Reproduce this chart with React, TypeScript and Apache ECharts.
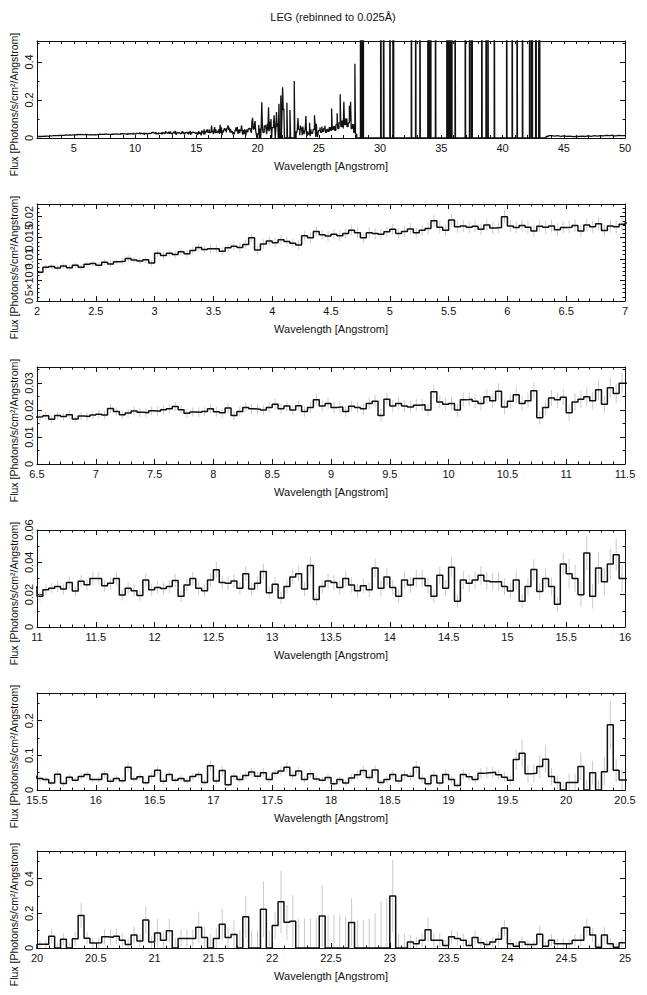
import React, { useEffect, useRef } from "react";
import * as echarts from "echarts";

const TITLE = "LEG (rebinned to 0.025Å)";
const X_NAME = "Wavelength [Angstrom]";
const Y_NAME = "Flux [Photons/s/cm²/Angstrom]";

// Bins of 0.05 Å starting at 2 Å (left edges), 2.00 ... 24.95
const BIN = 0.05;
const START = 2;
const FLUX = [
  // 2.00 - 2.95
  0.0068, 0.0080, 0.0082, 0.0078, 0.0083, 0.0079, 0.0085, 0.0080, 0.0087, 0.0089,
  0.0085, 0.0092, 0.0088, 0.0093, 0.0094, 0.0101, 0.0097, 0.0095, 0.0098, 0.0090,
  // 3.00 - 3.95
  0.0113, 0.0108, 0.0113, 0.0110, 0.0117, 0.0112, 0.0120, 0.0127, 0.0122, 0.0124,
  0.0124, 0.0118, 0.0126, 0.0130, 0.0127, 0.0134, 0.0150, 0.0121, 0.0135, 0.0142,
  // 4.00 - 4.95
  0.0138, 0.0145, 0.0141, 0.0137, 0.0133, 0.0155, 0.0150, 0.0165, 0.0157, 0.0154,
  0.0158, 0.0155, 0.0160, 0.0168, 0.0162, 0.0150, 0.0162, 0.0160, 0.0158, 0.0164,
  // 5.00 - 5.95
  0.0170, 0.0160, 0.0165, 0.0171, 0.0162, 0.0168, 0.0172, 0.0190, 0.0175, 0.0168,
  0.0192, 0.0176, 0.0178, 0.0175, 0.0177, 0.0170, 0.0180, 0.0173, 0.0174, 0.0200,
  // 6.00 - 6.95
  0.0178, 0.0174, 0.0179, 0.0175, 0.0166, 0.0177, 0.0175, 0.0178, 0.0169, 0.0174,
  0.0175, 0.0179, 0.0166, 0.0180, 0.0176, 0.0183, 0.0167, 0.0178, 0.0176, 0.0182,
  // 7.00 - 7.95
  0.0185, 0.0182, 0.0206, 0.0195, 0.0183, 0.0189, 0.0197, 0.0192, 0.0190, 0.0198,
  0.0196, 0.0201, 0.0205, 0.0213, 0.0201, 0.0188, 0.0193, 0.0192, 0.0195, 0.0205,
  // 8.00 - 8.95
  0.0194, 0.0190, 0.0208, 0.0180, 0.0195, 0.0210, 0.0205, 0.0203, 0.0200, 0.0210,
  0.0222, 0.0205, 0.0215, 0.0200, 0.0216, 0.0195, 0.0210, 0.0238, 0.0215, 0.0225,
  // 9.00 - 9.95
  0.0210, 0.0212, 0.0195, 0.0214, 0.0210, 0.0205, 0.0225, 0.0233, 0.0180, 0.0240,
  0.0215, 0.0225, 0.0215, 0.0212, 0.0218, 0.0220, 0.0200, 0.0268, 0.0230, 0.0222,
  // 10.00 - 10.95
  0.0225, 0.0200, 0.0238, 0.0240, 0.0233, 0.0225, 0.0250, 0.0235, 0.0270, 0.0212,
  0.0233, 0.0257, 0.0225, 0.0235, 0.0272, 0.0172, 0.0210, 0.0245, 0.0238, 0.0248,
  // 11.00 - 11.95
  0.0190, 0.0230, 0.0240, 0.0250, 0.0235, 0.0276, 0.0222, 0.0283, 0.0262, 0.0300,
  0.0300, 0.0255, 0.0270, 0.0300, 0.0198, 0.0240, 0.0225, 0.0195, 0.0290, 0.0230,
  // 12.00 - 12.95
  0.0245, 0.0238, 0.0250, 0.0287, 0.0190, 0.0260, 0.0300, 0.0240, 0.0225, 0.0290,
  0.0354, 0.0275, 0.0270, 0.0285, 0.0240, 0.0330, 0.0235, 0.0270, 0.0344, 0.0212,
  // 13.00 - 13.95
  0.0265, 0.0180, 0.0250, 0.0310, 0.0330, 0.0235, 0.0380, 0.0170, 0.0250, 0.0285,
  0.0275, 0.0245, 0.0300, 0.0260, 0.0225, 0.0255, 0.0230, 0.0365, 0.0240, 0.0310,
  // 14.00 - 14.95
  0.0245, 0.0190, 0.0290, 0.0260, 0.0300, 0.0300, 0.0255, 0.0190, 0.0320, 0.0240,
  0.0370, 0.0160, 0.0290, 0.0270, 0.0290, 0.0320, 0.0285, 0.0280, 0.0280, 0.0250,
  // 15.00 - 15.95
  0.0222, 0.0290, 0.0160, 0.0250, 0.0355, 0.0220, 0.0300, 0.0250, 0.0140, 0.0390,
  0.0330, 0.0300, 0.0200, 0.0457, 0.0190, 0.0365, 0.0280, 0.0390, 0.0447, 0.0300,
  // 16.00 - 16.95
  0.0300, 0.0460, 0.0250, 0.0330, 0.0270, 0.0660, 0.0320, 0.0380, 0.0210, 0.0400,
  0.0570, 0.0250, 0.0450, 0.0280, 0.0330, 0.0260, 0.0390, 0.0450, 0.0220, 0.0700,
  // 17.00 - 17.95
  0.0260, 0.0560, 0.0150, 0.0400, 0.0300, 0.0420, 0.0520, 0.0400, 0.0500, 0.0300,
  0.0480, 0.0550, 0.0660, 0.0420, 0.0550, 0.0300, 0.0470, 0.0320, 0.0280, 0.0360,
  // 18.00 - 18.95
  0.0180, 0.0300, 0.0200, 0.0350, 0.0440, 0.0560, 0.0360, 0.0580, 0.0220, 0.0300,
  0.0450, 0.0260, 0.0430, 0.0400, 0.0660, 0.0330, 0.0180, 0.0420, 0.0200, 0.0450,
  // 19.00 - 19.95
  0.0300, 0.0130, 0.0450, 0.0380, 0.0300, 0.0480, 0.0500, 0.0510, 0.0440, 0.0370,
  0.0280, 0.0880, 0.1060, 0.0470, 0.0480, 0.0680, 0.0890, 0.0390, 0.0220, 0.0000,
  // 20.00 - 20.95
  0.0220, 0.0220, 0.0680, 0.0000, 0.0500, 0.0000, 0.0530, 0.1880, 0.0570, 0.0290,
  0.0300, 0.0650, 0.0620, 0.0680, 0.0450, 0.0200, 0.0750, 0.0400, 0.1620, 0.0350,
  // 21.00 - 21.95
  0.0870, 0.0450, 0.1000, 0.0000, 0.0550, 0.0550, 0.0550, 0.1200, 0.0600, 0.0000,
  0.0550, 0.1370, 0.0600, 0.0780, 0.0000, 0.1800, 0.0000, 0.0000, 0.2240, 0.0000,
  // 22.00 - 22.95
  0.1300, 0.2670, 0.1480, 0.1550, 0.0000, 0.0000, 0.0000, 0.0000, 0.1850, 0.0000,
  0.0000, 0.0000, 0.0000, 0.1470, 0.0000, 0.0000, 0.0000, 0.0000, 0.0000, 0.0000,
  // 23.00 - 23.95
  0.3000, 0.0000, 0.0000, 0.0350, 0.0250, 0.0450, 0.1050, 0.0450, 0.0450, 0.0150,
  0.0650, 0.0550, 0.0450, 0.0150, 0.0600, 0.0300, 0.0200, 0.0350, 0.0500, 0.1150,
  // 24.00 - 24.95
  0.0250, 0.0100, 0.0350, 0.0200, 0.0200, 0.0800, 0.0100, 0.0450, 0.0250, 0.0250,
  0.0250, 0.0450, 0.0450, 0.1200, 0.0750, 0.0050, 0.0750, 0.0250, 0.0050, 0.0300,
];

const ERR = [
  // 2 - 3
  0.0006, 0.0006, 0.0006, 0.0007, 0.0006, 0.0007, 0.0006, 0.0007, 0.0007, 0.0007,
  0.0007, 0.0007, 0.0008, 0.0007, 0.0008, 0.0008, 0.0007, 0.0008, 0.0008, 0.0008,
  // 3 - 4
  0.0008, 0.0009, 0.0008, 0.0009, 0.0009, 0.0009, 0.0009, 0.0010, 0.0009, 0.0010,
  0.0010, 0.0010, 0.0010, 0.0010, 0.0011, 0.0011, 0.0010, 0.0011, 0.0011, 0.0011,
  // 4 - 5
  0.0011, 0.0011, 0.0012, 0.0011, 0.0012, 0.0012, 0.0012, 0.0012, 0.0011, 0.0012,
  0.0012, 0.0013, 0.0012, 0.0012, 0.0013, 0.0012, 0.0013, 0.0013, 0.0012, 0.0013,
  // 5 - 6
  0.0013, 0.0013, 0.0013, 0.0014, 0.0013, 0.0013, 0.0014, 0.0015, 0.0014, 0.0013,
  0.0015, 0.0014, 0.0014, 0.0014, 0.0014, 0.0013, 0.0014, 0.0014, 0.0014, 0.0016,
  // 6 - 7
  0.0014, 0.0014, 0.0014, 0.0015, 0.0014, 0.0014, 0.0015, 0.0015, 0.0015, 0.0014,
  0.0015, 0.0015, 0.0014, 0.0015, 0.0015, 0.0016, 0.0014, 0.0015, 0.0015, 0.0016,
  // 7 - 8
  0.0016, 0.0016, 0.0017, 0.0016, 0.0016, 0.0016, 0.0017, 0.0016, 0.0017, 0.0017,
  0.0017, 0.0017, 0.0018, 0.0018, 0.0017, 0.0017, 0.0017, 0.0018, 0.0018, 0.0018,
  // 8 - 9
  0.0018, 0.0018, 0.0019, 0.0018, 0.0019, 0.0019, 0.0019, 0.0019, 0.0019, 0.0020,
  0.0020, 0.0019, 0.0020, 0.0019, 0.0020, 0.0019, 0.0020, 0.0021, 0.0020, 0.0021,
  // 9 - 10
  0.0021, 0.0021, 0.0020, 0.0021, 0.0021, 0.0021, 0.0022, 0.0023, 0.0024, 0.0023,
  0.0022, 0.0023, 0.0022, 0.0023, 0.0023, 0.0023, 0.0022, 0.0025, 0.0024, 0.0024,
  // 10 - 11
  0.0025, 0.0024, 0.0026, 0.0026, 0.0026, 0.0026, 0.0028, 0.0027, 0.0030, 0.0027,
  0.0028, 0.0030, 0.0028, 0.0029, 0.0031, 0.0025, 0.0028, 0.0030, 0.0030, 0.0031,
  // 11 - 12
  0.0030, 0.0032, 0.0033, 0.0034, 0.0033, 0.0036, 0.0033, 0.0036, 0.0035, 0.0038,
  0.0040, 0.0037, 0.0039, 0.0041, 0.0034, 0.0038, 0.0037, 0.0034, 0.0041, 0.0037,
  // 12 - 13
  0.0038, 0.0038, 0.0039, 0.0042, 0.0035, 0.0040, 0.0043, 0.0039, 0.0038, 0.0043,
  0.0048, 0.0042, 0.0042, 0.0043, 0.0040, 0.0046, 0.0040, 0.0043, 0.0048, 0.0038,
  // 13 - 14
  0.0043, 0.0036, 0.0043, 0.0048, 0.0050, 0.0042, 0.0055, 0.0036, 0.0045, 0.0048,
  0.0047, 0.0045, 0.0050, 0.0047, 0.0044, 0.0047, 0.0045, 0.0058, 0.0046, 0.0052,
  // 14 - 15
  0.0047, 0.0041, 0.0053, 0.0050, 0.0054, 0.0054, 0.0050, 0.0043, 0.0057, 0.0049,
  0.0062, 0.0040, 0.0055, 0.0053, 0.0055, 0.0058, 0.0054, 0.0054, 0.0055, 0.0052,
  // 15 - 16
  0.0050, 0.0058, 0.0044, 0.0055, 0.0065, 0.0052, 0.0060, 0.0055, 0.0042, 0.0068,
  0.0090, 0.0085, 0.0075, 0.0105, 0.0075, 0.0095, 0.0085, 0.0095, 0.0100, 0.0085,
  // 16 - 17
  0.0090, 0.0110, 0.0085, 0.0095, 0.0090, 0.0140, 0.0095, 0.0100, 0.0080, 0.0105,
  0.0125, 0.0085, 0.0110, 0.0090, 0.0095, 0.0085, 0.0105, 0.0110, 0.0080, 0.0150,
  // 17 - 18
  0.0085, 0.0130, 0.0070, 0.0110, 0.0095, 0.0115, 0.0125, 0.0110, 0.0125, 0.0095,
  0.0125, 0.0135, 0.0150, 0.0115, 0.0135, 0.0095, 0.0125, 0.0100, 0.0095, 0.0110,
  // 18 - 19
  0.0080, 0.0100, 0.0085, 0.0110, 0.0125, 0.0140, 0.0110, 0.0145, 0.0090, 0.0105,
  0.0130, 0.0100, 0.0130, 0.0125, 0.0165, 0.0115, 0.0085, 0.0135, 0.0090, 0.0140,
  // 19 - 20
  0.0110, 0.0075, 0.0145, 0.0130, 0.0115, 0.0155, 0.0160, 0.0165, 0.0150, 0.0140,
  0.0130, 0.0300, 0.0400, 0.0250, 0.0260, 0.0330, 0.0400, 0.0250, 0.0200, 0.0220,
  // 20 - 21
  0.0250, 0.0250, 0.0400, 0.0300, 0.0350, 0.0300, 0.0400, 0.0700, 0.0350, 0.0300,
  0.0300, 0.0450, 0.0450, 0.0450, 0.0400, 0.0350, 0.0500, 0.0380, 0.0800, 0.0350,
  // 21 - 22
  0.0800, 0.0500, 0.0700, 0.0600, 0.0500, 0.0500, 0.0500, 0.0900, 0.0600, 0.0800,
  0.0600, 0.0900, 0.0600, 0.0800, 0.1000, 0.1200, 0.1000, 0.1000, 0.1600, 0.1000,
  // 22 - 23
  0.0800, 0.1800, 0.1000, 0.1500, 0.1700, 0.1700, 0.1700, 0.1700, 0.1800, 0.1900,
  0.1900, 0.1900, 0.1800, 0.1400, 0.1600, 0.1600, 0.1700, 0.2000, 0.2700, 0.2900,
  // 23 - 24
  0.2100, 0.0800, 0.0800, 0.0400, 0.0400, 0.0400, 0.0700, 0.0400, 0.0400, 0.0300,
  0.0400, 0.0400, 0.0400, 0.0300, 0.0400, 0.0300, 0.0300, 0.0300, 0.0400, 0.0450,
  // 24 - 25
  0.0300, 0.0250, 0.0300, 0.0250, 0.0250, 0.0500, 0.0250, 0.0350, 0.0300, 0.0300,
  0.0300, 0.0350, 0.0350, 0.0500, 0.0400, 0.0200, 0.0450, 0.0300, 0.0200, 0.0300,
];

// Long-wavelength part (25-50 Å) shown only in the overview: step start and value
const LONG_X = [
  25.00, 25.10, 25.15, 25.25, 25.30, 25.40, 25.50, 25.55, 25.65, 25.75,
  25.85, 25.95, 26.05, 26.10, 26.20, 26.30, 26.40, 26.50, 26.55, 26.65,
  26.75, 26.80, 26.90, 27.00, 27.05, 27.10, 27.20, 27.30, 27.40, 27.50,
  27.55, 27.60, 27.65, 27.75, 27.85, 27.95, 28.00, 28.10, 28.40, 28.47,
  28.55, 28.65, 30.05, 30.10, 30.28, 30.33, 30.80, 30.84, 31.05, 31.12,
  32.55, 32.59, 32.90, 32.94, 33.25, 33.29, 33.90, 33.98, 34.08, 34.16,
  34.52, 34.56, 35.45, 35.55, 35.62, 35.72, 35.80, 35.88, 36.12, 36.16,
  36.95, 36.99, 37.30, 37.36, 37.48, 37.54, 38.30, 38.34, 38.65, 38.69,
  38.80, 38.84, 39.32, 39.36, 40.33, 40.37, 40.78, 40.82, 41.18, 41.22,
  41.62, 41.66, 42.20, 42.26, 42.38, 42.45, 42.70, 42.76, 42.95, 43.05,
  43.55, 43.75, 44.00, 44.25, 44.50, 44.75, 45.00, 45.25, 45.50, 45.75,
  46.00, 46.25, 46.50, 46.75, 47.00, 47.25, 47.50, 47.75, 48.00, 48.25,
  48.50, 48.75, 49.00, 49.25, 49.50, 49.75, 50.00,
];
const LONG_Y = [
  0.040, 0.055, 0.030, 0.060, 0.035, 0.050, 0.065, 0.030, 0.045, 0.035,
  0.055, 0.040, 0.155, 0.045, 0.060, 0.040, 0.070, 0.130, 0.050, 0.080,
  0.230, 0.060, 0.090, 0.050, 0.190, 0.070, 0.100, 0.060, 0.080, 0.170,
  0.090, 0.190, 0.050, 0.070, 0.030, 0.390, 0.020, 0.000, 2.000, 0.000,
  2.000, 0.000, 2.000, 0.000, 2.000, 0.000, 2.000, 0.000, 2.000, 0.000,
  2.000, 0.000, 2.000, 0.000, 2.000, 0.000, 2.000, 0.000, 2.000, 0.000,
  2.000, 0.000, 2.000, 0.000, 2.000, 0.000, 2.000, 0.000, 2.000, 0.000,
  2.000, 0.000, 2.000, 0.000, 2.000, 0.000, 2.000, 0.000, 2.000, 0.000,
  2.000, 0.000, 2.000, 0.000, 2.000, 0.000, 2.000, 0.000, 2.000, 0.000,
  2.000, 0.000, 2.000, 0.000, 2.000, 0.000, 2.000, 0.000, 2.000, 0.000,
  0.008, 0.013, 0.010, 0.012, 0.009, 0.011, 0.008, 0.010, 0.007, 0.009,
  0.008, 0.010, 0.008, 0.011, 0.009, 0.012, 0.010, 0.013, 0.011, 0.014,
  0.012, 0.015, 0.011, 0.014, 0.013, 0.012, 0.012,
];

// Panel axes
const X_MIN = [2, 2, 6.5, 11, 15.5, 20];
const X_MAX = [50, 7, 11.5, 16, 20.5, 25];
const X_STEP = [1, 0.5, 0.5, 0.5, 0.5, 0.5];
const X_LABEL_EVERY = [5, 0.5, 0.5, 0.5, 0.5, 0.5];
const Y_MAX = [0.51, 0.023, 0.036, 0.06, 0.28, 0.56];
const Y_STEP = [0.2, 0.005, 0.01, 0.02, 0.1, 0.2];
const Y_MINOR = [2, 5, 2, 2, 2, 2];
const SHOW_ERR = [false, true, true, true, true, true];

// layout
const GRID_LEFT = 37;
const GRID_WIDTH = 588;
const GRID_TOPS = [41, 204, 367, 530, 693, 851];
const GRID_H = 97;
const FONT = "Liberation Sans, Arial, Helvetica, sans-serif";
const INK = "#111";

const binStart = (i: number) => +(START + i * BIN).toFixed(3);
const isMult = (v: number, s: number) => {
  const r = v / s;
  return Math.abs(r - Math.round(r)) < 1e-6;
};

function buildOption() {
  const grids: any[] = [];
  const xAxes: any[] = [];
  const yAxes: any[] = [];
  const series: any[] = [];
  const graphics: any[] = [];

  const fluxPts = FLUX.map((v, i) => [binStart(i), v]);
  const fluxPtsEnd = [...fluxPts, [START + FLUX.length * BIN, FLUX[FLUX.length - 1]]];
  const overviewPts = [...fluxPts, ...LONG_X.map((x, i) => [x, LONG_Y[i]])];

  graphics.push({
    type: "text",
    x: 333,
    y: 17,
    style: { text: TITLE, font: `11px ${FONT}`, fill: INK, textAlign: "center", textVerticalAlign: "middle" },
  });

  for (let k = 0; k < 6; k++) {
    grids.push({ left: GRID_LEFT, width: GRID_WIDTH, top: GRID_TOPS[k], height: GRID_H, containLabel: false });
    const lineStyle = { color: "#111", width: 1 };
    const xBase = {
      gridIndex: k,
      type: "value",
      min: X_MIN[k],
      max: X_MAX[k],
      interval: X_STEP[k],
      splitLine: { show: false },
      axisLine: { show: true, onZero: false, lineStyle },
      axisTick: { show: true, inside: true, length: k === 0 ? 3 : 5, lineStyle },
      minorTick: { show: k !== 0, splitNumber: 5, length: 2.5, lineStyle },
    };
    xAxes.push({
      ...xBase,
      position: "bottom",
      name: X_NAME,
      nameLocation: "middle",
      nameGap: 22,
      nameTextStyle: { fontFamily: FONT, fontSize: 11, color: INK },
      axisLabel: {
        show: true,
        margin: 4,
        fontFamily: FONT,
        fontSize: 11,
        color: INK,
        formatter: (v: number) => (isMult(v, X_LABEL_EVERY[k]) ? String(+v.toFixed(3)) : ""),
      },
    });
    xAxes.push({ ...xBase, position: "top", axisLabel: { show: false } });

    const yBase = {
      gridIndex: k,
      type: "value",
      min: 0,
      max: Y_MAX[k],
      interval: Y_STEP[k],
      splitLine: { show: false },
      axisLine: { show: true, onZero: false, lineStyle },
      axisTick: { show: true, inside: true, length: 5, lineStyle },
      minorTick: { show: true, splitNumber: Y_MINOR[k], length: 2.5, lineStyle },
    };
    yAxes.push({
      ...yBase,
      position: "left",
      axisLabel: {
        show: true,
        rotate: 90,
        margin: 3,
        fontFamily: FONT,
        fontSize: 11,
        color: INK,
        formatter: (v: number) => {
          if (!isMult(v, Y_STEP[k])) return "";
          if (Math.abs(v - 0.005) < 1e-9) return "5×10⁻³";
          return String(+v.toFixed(4));
        },
      },
    });
    yAxes.push({ ...yBase, position: "right", axisLabel: { show: false } });

    if (SHOW_ERR[k]) {
      const errData = FLUX.map((v, i) => [binStart(i) + BIN / 2, Math.max(0, v - ERR[i]), v + ERR[i]]).filter(
        (d) => d[0] > X_MIN[k] && d[0] < X_MAX[k]
      );
      series.push({
        type: "custom",
        xAxisIndex: 2 * k,
        yAxisIndex: 2 * k,
        data: errData,
        encode: { x: 0, y: [1, 2] },
        silent: true,
        z: 1,
        renderItem: (params: any, api: any) => {
          const x = api.value(0);
          const p1 = api.coord([x, api.value(1)]);
          const p2 = api.coord([x, api.value(2)]);
          const top = params.coordSys.y;
          return {
            type: "line",
            shape: { x1: p1[0], y1: p1[1], x2: p2[0], y2: Math.max(p2[1], top) },
            style: { stroke: "#cacaca", lineWidth: 1 },
          };
        },
      });
    }

    series.push({
      type: "line",
      xAxisIndex: 2 * k,
      yAxisIndex: 2 * k,
      data: k === 0 ? overviewPts : fluxPtsEnd,
      step: "end",
      showSymbol: false,
      symbol: "none",
      silent: true,
      clip: true,
      z: 3,
      lineStyle: { color: "#111", width: k === 0 ? 1.3 : 1.5 },
    });

    graphics.push({
      type: "text",
      x: 14,
      y: GRID_TOPS[k] + GRID_H / 2 + 15,
      rotation: Math.PI / 2,
      style: { text: Y_NAME, font: `10.5px ${FONT}`, fill: INK, textAlign: "center", textVerticalAlign: "middle" },
    });
  }

  return {
    animation: false,
    backgroundColor: "#fff",
    grid: grids,
    xAxis: xAxes,
    yAxis: yAxes,
    series,
    graphic: graphics,
  };
}

export default function App() {
  const ref = useRef<HTMLDivElement>(null);
  useEffect(() => {
    const chart = echarts.init(ref.current!, null, { renderer: "svg" });
    chart.setOption(buildOption() as any);
    return () => chart.dispose();
  }, []);
  return (
    <div
      ref={ref}
      style={{ position: "absolute", left: 0, top: 0, width: 647, height: 995, background: "#fff" }}
    />
  );
}
